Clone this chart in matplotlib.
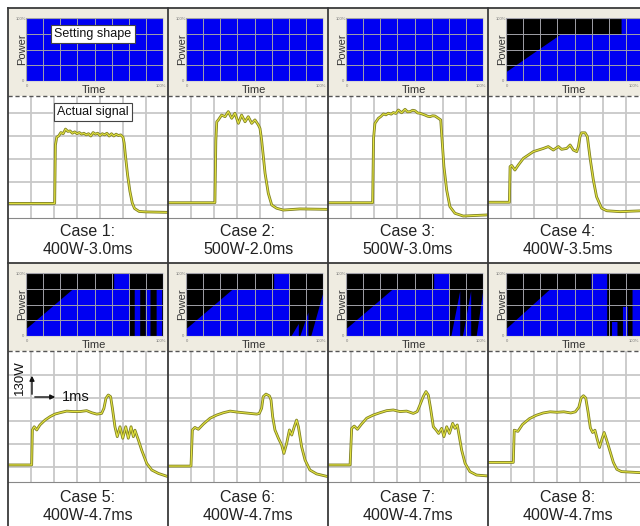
import matplotlib.pyplot as plt
import numpy as np
from matplotlib.lines import Line2D
from matplotlib.patches import FancyArrowPatch

plt.rcParams['font.family'] = ['Liberation Sans', 'DejaVu Sans']

W, H = 640, 526

case_names = ["Case 1:", "Case 2:", "Case 3:", "Case 4:",
              "Case 5:", "Case 6:", "Case 7:", "Case 8:"]
case_params = ["400W-3.0ms", "500W-2.0ms", "500W-3.0ms", "400W-3.5ms",
               "400W-4.7ms", "400W-4.7ms", "400W-4.7ms", "400W-4.7ms"]

# setting shapes: time fraction vs power fraction
flat_t = [0, 1]
flat_p = [1, 1]
shape4_t = [0, 0.4, 0.84, 0.84, 1.0]
shape4_p = [0.15, 0.75, 0.75, 1.0, 1.0]
shape5_t = [0, 0.34, 0.64, 0.64, 0.755, 0.755, 0.79, 0.79, 0.83, 0.83,
            0.87, 0.87, 0.905, 0.905, 0.95, 0.95, 0.99, 0.99, 1.0]
shape5_p = [0.12, 0.75, 0.75, 1, 1, 0, 0, 0.75, 0.75, 0,
            0, 0.75, 0.75, 0, 0, 0.75, 0.75, 0, 0]
shape6_t = [0, 0.34, 0.64, 0.64, 0.755, 0.755, 0.765, 0.82, 0.82, 0.83, 0.89, 0.89, 0.91, 1.0]
shape6_p = [0.12, 0.75, 0.75, 1, 1, 0, 0, 0.2, 0, 0, 0.38, 0, 0, 0.7]
shape7_t = [0, 0.34, 0.64, 0.64, 0.75, 0.75, 0.765, 0.83, 0.83, 0.85, 0.91, 0.91, 0.95, 1.0]
shape7_p = [0.12, 0.75, 0.75, 1, 1, 0, 0, 0.72, 0, 0, 0.72, 0, 0, 0.75]
shape8_t = [0, 0.32, 0.62, 0.62, 0.735, 0.735, 0.77, 0.77, 0.81, 0.81,
            0.85, 0.85, 0.885, 0.885, 0.92, 0.92, 1.0]
shape8_p = [0.12, 0.75, 0.75, 1, 1, 0, 0, 0.23, 0.23, 0,
            0, 0.47, 0.47, 0, 0, 0.75, 0.75]

# actual signals: time in ms (grid units), power in 130 W divisions
sig1_t = [0, 2.03, 2.06, 2.12, 2.2, 2.3, 2.4, 2.5, 2.6, 2.7, 2.8, 2.9, 3.0, 3.1, 3.2, 3.3,
          3.4, 3.5, 3.6, 3.7, 3.8, 3.9, 4.0, 4.1, 4.2, 4.3, 4.4, 4.5, 4.6, 4.7, 4.8, 4.9,
          5.0, 5.05, 5.1, 5.2, 5.3, 5.4, 5.5, 5.7, 6.0, 6.96]
sig1_v = [0.07, 0.07, 2.6, 2.95, 3.0, 3.15, 3.1, 3.3, 3.2, 3.22, 3.12, 3.18, 3.1, 3.15,
          3.08, 3.12, 3.05, 3.1, 3.0, 3.15, 3.08, 3.12, 3.02, 3.1, 3.05, 3.12, 3.0, 3.1,
          3.0, 3.08, 3.02, 3.05, 2.95, 2.7, 2.2, 1.3, 0.6, 0.1, -0.15, -0.28, -0.3, -0.32]
sig2_t = [0, 2.04, 2.08, 2.12, 2.19, 2.33, 2.48, 2.62, 2.77, 2.91, 3.06, 3.2, 3.35,
          3.49, 3.64, 3.78, 3.93, 4.0, 4.07, 4.22, 4.36, 4.51, 4.72, 5.01, 5.74, 6.96]
sig2_v = [0.1, 0.1, 2.8, 3.62, 3.7, 3.91, 3.84, 4.06, 3.77, 3.99, 3.55, 3.91, 3.62,
          3.84, 3.55, 3.7, 3.48, 3.33, 2.83, 1.38, 0.51, 0.0, -0.14, -0.22, -0.17, -0.19]
sig3_t = [0, 1.94, 1.98, 2.04, 2.19, 2.3, 2.41, 2.52, 2.62, 2.75, 2.84, 2.95, 3.06, 3.2,
          3.35, 3.46, 3.57, 3.68, 3.78, 3.9, 4.0, 4.11, 4.22, 4.33, 4.43, 4.55, 4.65, 4.8,
          4.9, 4.94, 5.04, 5.16, 5.3, 5.52, 5.88, 6.96]
sig3_v = [0.1, 0.1, 2.9, 3.55, 3.77, 3.85, 3.96, 3.92, 3.99, 3.95, 4.02, 3.98, 4.13, 4.01,
          4.16, 4.05, 4.06, 4.12, 4.1, 4.0, 3.99, 3.95, 3.91, 3.86, 3.84, 3.88, 3.87, 3.77,
          3.7, 3.12, 1.67, 0.65, -0.07, -0.36, -0.48, -0.43]
sig4_t = [0, 0.93, 0.96, 1.03, 1.17, 1.32, 1.54, 1.75, 1.97, 2.19, 2.41, 2.62, 2.84, 3.06,
          3.2, 3.42, 3.57, 3.71, 3.86, 3.93, 4.0, 4.07, 4.22, 4.32, 4.43, 4.58, 4.72, 4.94,
          5.16, 5.74, 6.7]
sig4_v = [0.12, 0.12, 1.67, 1.72, 1.52, 1.74, 2.03, 2.17, 2.32, 2.39, 2.46, 2.54, 2.39,
          2.54, 2.42, 2.46, 2.61, 2.39, 2.32, 2.54, 2.97, 3.14, 3.14, 2.97, 2.1, 1.09, 0.36,
          -0.14, -0.25, -0.29, -0.25]
sig5_t = [0, 1.03, 1.06, 1.14, 1.25, 1.39, 1.61, 1.83, 2.04, 2.26, 2.55, 2.84, 3.13, 3.42,
          3.64, 3.86, 4.07, 4.17, 4.26, 4.36, 4.46, 4.54, 4.65, 4.75, 4.87, 4.99, 5.12, 5.23,
          5.35, 5.45, 5.52, 5.67, 5.81, 6.03, 6.25, 6.54, 6.96]
sig5_v = [0.09, 0.09, 1.61, 1.75, 1.61, 1.83, 2.04, 2.19, 2.3, 2.36, 2.43, 2.41, 2.41, 2.45,
          2.36, 2.3, 2.33, 2.55, 2.99, 3.13, 3.06, 2.55, 1.75, 1.32, 1.75, 1.25, 1.75, 1.25,
          1.75, 1.32, 1.6, 1.17, 0.74, 0.16, -0.13, -0.28, -0.42]
sig6_t = [0, 1.0, 1.06, 1.17, 1.32, 1.54, 1.83, 2.12, 2.41, 2.7, 2.99, 3.28, 3.57, 3.86,
          3.97, 4.07, 4.14, 4.26, 4.41, 4.48, 4.55, 4.65, 4.8, 4.94, 5.04, 5.16, 5.28, 5.38,
          5.49, 5.59, 5.67, 5.81, 5.96, 6.17, 6.46, 6.96]
sig6_v = [0.04, 0.04, 1.61, 1.72, 1.64, 1.87, 2.12, 2.26, 2.36, 2.43, 2.39, 2.36, 2.33, 2.3,
          2.33, 2.55, 3.06, 3.17, 3.09, 2.91, 2.19, 1.61, 1.25, 0.96, 0.59, 1.03, 1.61, 1.39,
          1.75, 2.04, 1.75, 0.88, 0.3, -0.13, -0.3, -0.42]
sig7_t = [0, 0.96, 1.03, 1.14, 1.28, 1.46, 1.68, 1.97, 2.26, 2.55, 2.84, 3.13, 3.42, 3.71,
          3.88, 4.0, 4.14, 4.26, 4.36, 4.46, 4.58, 4.7, 4.81, 4.94, 5.04, 5.16, 5.28, 5.42,
          5.52, 5.62, 5.71, 5.81, 5.96, 6.17, 6.46, 6.96]
sig7_v = [0.09, 0.09, 1.68, 1.78, 1.64, 1.87, 2.12, 2.26, 2.36, 2.45, 2.48, 2.41, 2.43, 2.33,
          2.41, 2.7, 3.06, 3.28, 3.13, 2.55, 1.75, 1.61, 1.46, 1.68, 1.32, 1.75, 1.46, 1.9,
          1.68, 1.83, 1.32, 0.74, 0.16, -0.2, -0.35, -0.39]
sig8_t = [0, 1.1, 1.14, 1.3, 1.5, 1.8, 2.1, 2.4, 2.7, 3.0, 3.3, 3.6, 3.8, 3.95, 4.05, 4.15,
          4.25, 4.35, 4.45, 4.55, 4.65, 4.75, 4.85, 4.95, 5.05, 5.15, 5.3, 5.45, 5.6, 5.8, 6.7]
sig8_v = [0.2, 0.2, 1.6, 1.55, 1.85, 2.1, 2.25, 2.35, 2.4, 2.38, 2.4, 2.35, 2.4, 2.6, 3.0,
          3.1, 3.0, 2.4, 1.7, 1.5, 1.6, 1.2, 0.85, 1.2, 1.5, 1.2, 0.7, 0.2, -0.1, -0.2, -0.25]

shapes = [(flat_t, flat_p), (flat_t, flat_p), (flat_t, flat_p), (shape4_t, shape4_p),
          (shape5_t, shape5_p), (shape6_t, shape6_p), (shape7_t, shape7_p), (shape8_t, shape8_p)]
signals = [(sig1_t, sig1_v), (sig2_t, sig2_v), (sig3_t, sig3_v), (sig4_t, sig4_v),
           (sig5_t, sig5_v), (sig6_t, sig6_v), (sig7_t, sig7_v), (sig8_t, sig8_v)]

# layout in pixels (top-left origin)
col_x = [8, 168, 328, 488]
row_top = [8, 263]
row_dash = [96, 351]
row_sig = [218, 482]
row_zero = [205, 467]
row_cap = [232, 497]

fig = plt.figure(figsize=(6.4, 5.26), dpi=100)
fig.patch.set_facecolor('white')


def rect(x0, y0, x1, y1):
    return [x0 / W, 1 - y1 / H, (x1 - x0) / W, (y1 - y0) / H]


def fx(x):
    return x / W


def fy(y):
    return 1 - y / H


def line(xs, ys, **kw):
    fig.add_artist(Line2D([fx(x) for x in xs], [fy(y) for y in ys],
                          transform=fig.transFigure, **kw))


for i in range(8):
    r, c = divmod(i, 4)
    x0 = col_x[c]
    top, dash, sbot, zero = row_top[r], row_dash[r], row_sig[r], row_zero[r]

    # beige frame of the setting panel
    bg = fig.add_axes(rect(x0, top, x0 + 160, dash))
    bg.set_facecolor('#efece1')
    bg.set_xticks([])
    bg.set_yticks([])
    for s in bg.spines.values():
        s.set_visible(False)

    # setting shape plot
    ax = fig.add_axes(rect(x0 + 18, top + 10, x0 + 155, dash - 15))
    ax.set_facecolor('black')
    st, sp = shapes[i]
    ax.fill_between(st, 0, sp, color='#0000f2', lw=0)
    ax.set_xlim(0, 1)
    ax.set_ylim(0, 1)
    ax.set_xticks(np.linspace(0, 1, 9))
    ax.set_yticks(np.linspace(0, 1, 5))
    ax.grid(True, color='#a0a0a8', lw=0.7)
    ax.set_axisbelow(False)
    ax.tick_params(length=0, labelbottom=False, labelleft=False)
    for s in ax.spines.values():
        s.set_color('#d8d8d8')
        s.set_linewidth(0.8)
    small = dict(fontsize=3, va='center', color='#777777')
    fig.text(fx(x0 + 14), fy((top + dash - 5) / 2), "Power", rotation=90,
             fontsize=8, ha='center', va='center', color='#333333')
    fig.text(fx(x0 + 86), fy(dash - 6), "Time", fontsize=8,
             ha='center', va='center', color='#333333')
    fig.text(fx(x0 + 13), fy(top + 11), "100%", ha='center', **small)
    fig.text(fx(x0 + 15), fy(dash - 15), "0", ha='center', **small)
    fig.text(fx(x0 + 19), fy(dash - 10), "0", ha='center', **small)
    fig.text(fx(min(x0 + 158, W - 1)), fy(dash - 10), "100%", ha='right', **small)

    # actual signal plot
    sx = fig.add_axes(rect(x0, dash, x0 + 160, sbot))
    sx.set_facecolor('white')
    sx.set_xlim(0, 160 / 23)
    sx.set_ylim((zero - sbot) / 23, (zero - dash) / 23)
    sx.set_xticks(np.arange(1, 7))
    sx.set_yticks(np.arange(0, 5))
    sx.grid(True, color='#c8c8c8', lw=1.3)
    sx.tick_params(length=0, labelbottom=False, labelleft=False)
    for s in sx.spines.values():
        s.set_visible(False)
    t, v = signals[i]
    sx.plot(t, v, color='#7f8024', lw=2.0, solid_joinstyle='round')
    sx.plot(t, v, color='#e4e440', lw=0.8, solid_joinstyle='round')

    # dashed separator and signal bottom line
    line([x0, x0 + 160], [dash, dash], color='#555555', lw=1.0, linestyle=(0, (3, 2)))
    line([x0, x0 + 160], [sbot, sbot], color='#888888', lw=0.8)

    # caption
    fig.text(fx(x0 + 80), fy(row_cap[r]), case_names[i], fontsize=11.5,
             ha='center', va='center', color='#222222')
    fig.text(fx(x0 + 80), fy(row_cap[r] + 18), case_params[i], fontsize=11.5,
             ha='center', va='center', color='#222222')

# cell borders
for x in col_x:
    line([x, x], [8, H], color='#3a3a3a', lw=1.3)
for y in row_top:
    line([8, W], [y, y], color='#3a3a3a', lw=1.3)

# labels in the first cells
box = dict(boxstyle='square,pad=0.25', facecolor='white', edgecolor='#444444', lw=0.8)
fig.text(fx(93), fy(34), "Setting shape", fontsize=9, ha='center', va='center',
         color='#111111', bbox=box)
fig.text(fx(93), fy(112), "Actual signal", fontsize=9, ha='center', va='center',
         color='#111111', bbox=box)

# scale marker in case 5
fig.text(fx(20), fy(378), "130W", rotation=90, fontsize=9.5, ha='center', va='center',
         color='#111111')
arrow_kw = dict(arrowstyle='-|>', color='#111111', lw=1.0, mutation_scale=7,
                transform=fig.transFigure)
fig.add_artist(FancyArrowPatch((fx(32), fy(397)), (fx(32), fy(373)), **arrow_kw))
fig.add_artist(FancyArrowPatch((fx(32), fy(397)), (fx(58), fy(397)), **arrow_kw))
fig.text(fx(76), fy(397), "1ms", fontsize=10.5, ha='center', va='center', color='#111111')

fig.savefig('out.png', dpi=100)
